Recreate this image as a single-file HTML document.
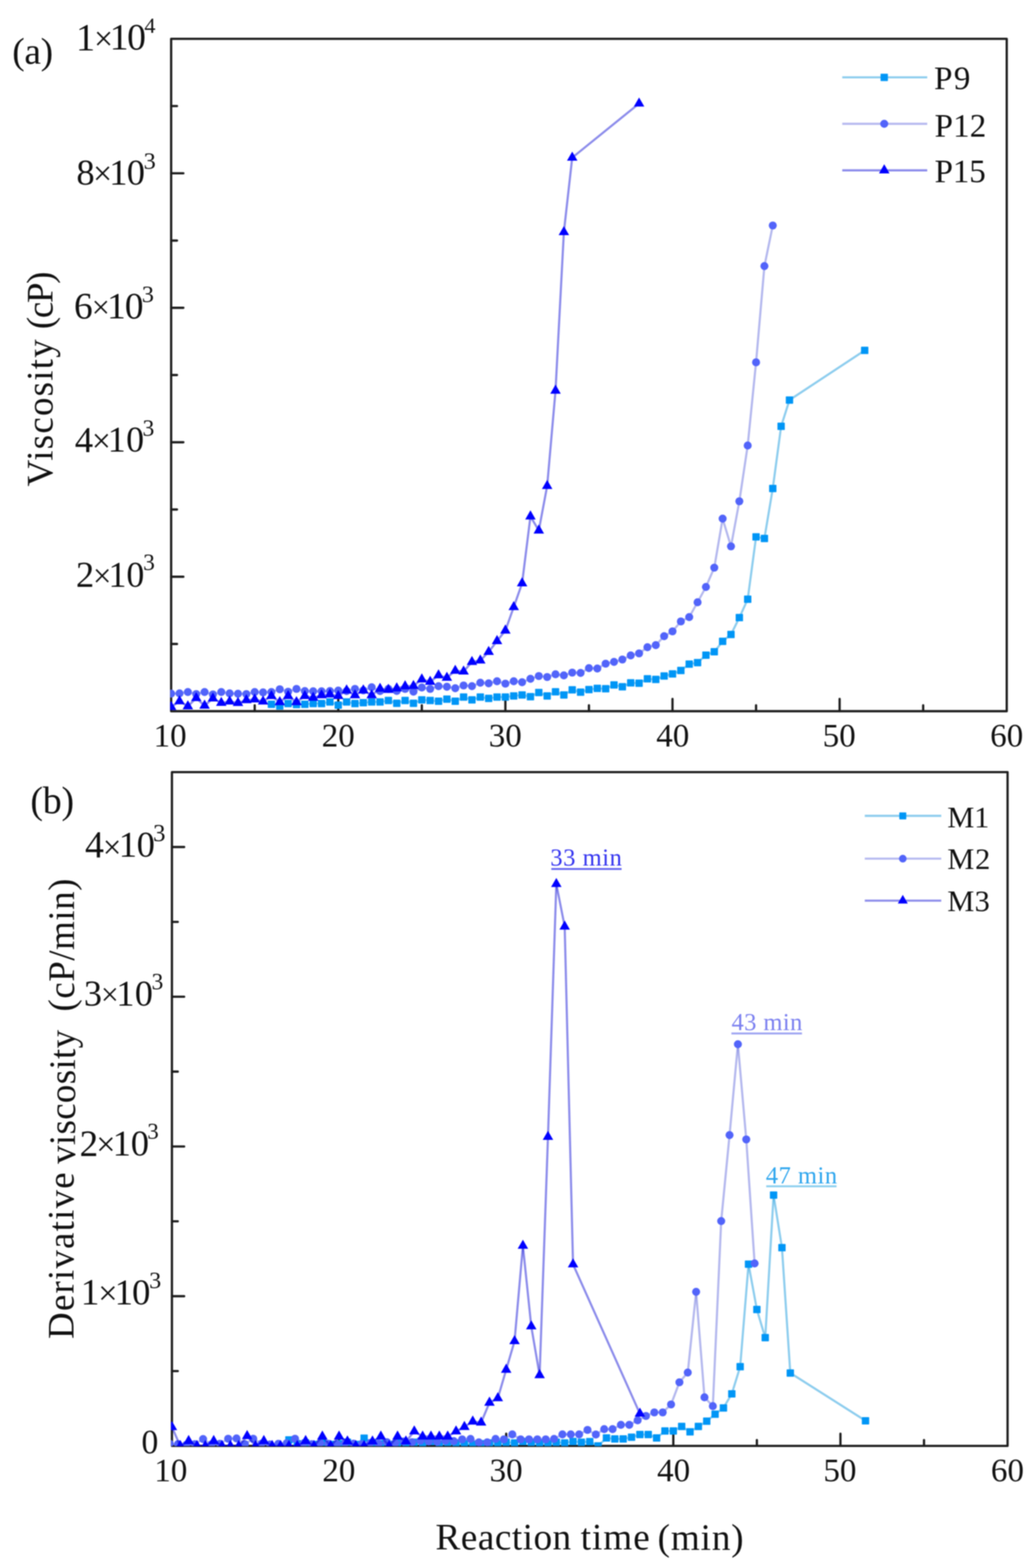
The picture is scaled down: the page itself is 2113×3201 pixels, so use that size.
<!DOCTYPE html>
<html><head><meta charset="utf-8"><title>Viscosity vs reaction time</title><style>html,body{margin:0;padding:0;background:#fff;}svg{display:block;filter:blur(0.8px);}</style></head><body>
<svg width="2113" height="3201" viewBox="0 0 2113 3201">
<defs><clipPath id="ca"><rect x="347.4" y="77.3" width="1709.9" height="1375.1"/></clipPath><clipPath id="cb"><rect x="349" y="1574.3" width="1710" height="1378"/></clipPath></defs>
<rect width="2113" height="3201" fill="#fff"/>
<rect x="349.4" y="79.3" width="1705.9" height="1372.6" fill="none" stroke="#1d1d1d" stroke-width="4.6" stroke-linejoin="round"/>
<path d="M519.99 1451.9V1439.9 M690.58 1451.9V1426.9 M861.17 1451.9V1439.9 M1031.76 1451.9V1426.9 M1202.35 1451.9V1439.9 M1372.94 1451.9V1426.9 M1543.53 1451.9V1439.9 M1714.12 1451.9V1426.9 M1884.71 1451.9V1439.9 M349.4 1177.38H374.4 M349.4 902.86H374.4 M349.4 628.34H374.4 M349.4 353.82H374.4 M349.4 1314.64H361.4 M349.4 1040.12H361.4 M349.4 765.6H361.4 M349.4 491.08H361.4 M349.4 216.56H361.4" stroke="#1d1d1d" stroke-width="4.6" stroke-linecap="round" fill="none"/>
<g clip-path="url(#ca)">
<g stroke="#0290d9" stroke-opacity="0.45" stroke-width="4.4" stroke-linecap="round">
<line x1="554.11" y1="1437.76" x2="571.17" y2="1441.19"/>
<line x1="571.17" y1="1441.19" x2="588.23" y2="1436.25"/>
<line x1="588.23" y1="1436.25" x2="605.28" y2="1438.17"/>
<line x1="605.28" y1="1438.17" x2="622.34" y2="1437.76"/>
<line x1="622.34" y1="1437.76" x2="639.4" y2="1436.25"/>
<line x1="639.4" y1="1436.25" x2="656.46" y2="1436.25"/>
<line x1="656.46" y1="1436.25" x2="673.52" y2="1432.96"/>
<line x1="673.52" y1="1432.96" x2="690.58" y2="1439.55"/>
<line x1="690.58" y1="1439.55" x2="707.64" y2="1432.96"/>
<line x1="707.64" y1="1432.96" x2="724.7" y2="1436.25"/>
<line x1="724.7" y1="1436.25" x2="741.76" y2="1434.47"/>
<line x1="741.76" y1="1434.47" x2="758.82" y2="1432.96"/>
<line x1="758.82" y1="1432.96" x2="775.88" y2="1432.96"/>
<line x1="775.88" y1="1432.96" x2="792.93" y2="1430.08"/>
<line x1="792.93" y1="1430.08" x2="809.99" y2="1435.7"/>
<line x1="809.99" y1="1435.7" x2="827.05" y2="1430.08"/>
<line x1="827.05" y1="1430.08" x2="844.11" y2="1435.7"/>
<line x1="844.11" y1="1435.7" x2="861.17" y2="1428.7"/>
<line x1="861.17" y1="1428.7" x2="878.23" y2="1430.08"/>
<line x1="878.23" y1="1430.08" x2="895.29" y2="1431.45"/>
<line x1="895.29" y1="1431.45" x2="912.35" y2="1427.33"/>
<line x1="912.35" y1="1427.33" x2="929.41" y2="1431.45"/>
<line x1="929.41" y1="1431.45" x2="946.46" y2="1423.08"/>
<line x1="946.46" y1="1423.08" x2="963.52" y2="1428.7"/>
<line x1="963.52" y1="1428.7" x2="980.58" y2="1423.08"/>
<line x1="980.58" y1="1423.08" x2="997.64" y2="1425.82"/>
<line x1="997.64" y1="1425.82" x2="1014.7" y2="1422.94"/>
<line x1="1014.7" y1="1422.94" x2="1031.76" y2="1422.94"/>
<line x1="1031.76" y1="1422.94" x2="1048.82" y2="1420.74"/>
<line x1="1048.82" y1="1420.74" x2="1065.88" y2="1418.68"/>
<line x1="1065.88" y1="1418.68" x2="1082.94" y2="1422.25"/>
<line x1="1082.94" y1="1422.25" x2="1100" y2="1413.74"/>
<line x1="1100" y1="1413.74" x2="1117.06" y2="1420.74"/>
<line x1="1117.06" y1="1420.74" x2="1134.11" y2="1412.37"/>
<line x1="1134.11" y1="1412.37" x2="1151.17" y2="1418.68"/>
<line x1="1151.17" y1="1418.68" x2="1168.23" y2="1408.25"/>
<line x1="1168.23" y1="1408.25" x2="1185.29" y2="1413.06"/>
<line x1="1185.29" y1="1413.06" x2="1202.35" y2="1407.7"/>
<line x1="1202.35" y1="1407.7" x2="1219.41" y2="1405.37"/>
<line x1="1219.41" y1="1405.37" x2="1236.47" y2="1406.06"/>
<line x1="1236.47" y1="1406.06" x2="1253.53" y2="1398.37"/>
<line x1="1253.53" y1="1398.37" x2="1270.59" y2="1401.94"/>
<line x1="1270.59" y1="1401.94" x2="1287.64" y2="1394.11"/>
<line x1="1287.64" y1="1394.11" x2="1304.7" y2="1394.8"/>
<line x1="1304.7" y1="1394.8" x2="1321.76" y2="1385.74"/>
<line x1="1321.76" y1="1385.74" x2="1338.82" y2="1387.11"/>
<line x1="1338.82" y1="1387.11" x2="1355.88" y2="1380.11"/>
<line x1="1355.88" y1="1380.11" x2="1372.94" y2="1375.86"/>
<line x1="1372.94" y1="1375.86" x2="1390" y2="1368.86"/>
<line x1="1390" y1="1368.86" x2="1407.06" y2="1355.82"/>
<line x1="1407.06" y1="1355.82" x2="1424.12" y2="1352.66"/>
<line x1="1424.12" y1="1352.66" x2="1441.18" y2="1337.56"/>
<line x1="1441.18" y1="1337.56" x2="1458.24" y2="1330.56"/>
<line x1="1458.24" y1="1330.56" x2="1475.29" y2="1309.29"/>
<line x1="1475.29" y1="1309.29" x2="1492.35" y2="1295.15"/>
<line x1="1492.35" y1="1295.15" x2="1509.41" y2="1260.83"/>
<line x1="1509.41" y1="1260.83" x2="1526.47" y2="1223.36"/>
<line x1="1526.47" y1="1223.36" x2="1543.53" y2="1096.12"/>
<line x1="1543.53" y1="1096.12" x2="1560.59" y2="1099.14"/>
<line x1="1560.59" y1="1099.14" x2="1577.65" y2="997.16"/>
<line x1="1577.65" y1="997.16" x2="1594.71" y2="870.33"/>
<line x1="1594.71" y1="870.33" x2="1611.77" y2="816.66"/>
<line x1="1611.77" y1="816.66" x2="1765.3" y2="715.36"/>
</g>
<g fill="#0096f6">
<rect x="546.61" y="1430.26" width="15" height="15" rx="1.2"/>
<rect x="563.67" y="1433.69" width="15" height="15" rx="1.2"/>
<rect x="580.73" y="1428.75" width="15" height="15" rx="1.2"/>
<rect x="597.78" y="1430.67" width="15" height="15" rx="1.2"/>
<rect x="614.84" y="1430.26" width="15" height="15" rx="1.2"/>
<rect x="631.9" y="1428.75" width="15" height="15" rx="1.2"/>
<rect x="648.96" y="1428.75" width="15" height="15" rx="1.2"/>
<rect x="666.02" y="1425.46" width="15" height="15" rx="1.2"/>
<rect x="683.08" y="1432.05" width="15" height="15" rx="1.2"/>
<rect x="700.14" y="1425.46" width="15" height="15" rx="1.2"/>
<rect x="717.2" y="1428.75" width="15" height="15" rx="1.2"/>
<rect x="734.26" y="1426.97" width="15" height="15" rx="1.2"/>
<rect x="751.32" y="1425.46" width="15" height="15" rx="1.2"/>
<rect x="768.38" y="1425.46" width="15" height="15" rx="1.2"/>
<rect x="785.43" y="1422.58" width="15" height="15" rx="1.2"/>
<rect x="802.49" y="1428.2" width="15" height="15" rx="1.2"/>
<rect x="819.55" y="1422.58" width="15" height="15" rx="1.2"/>
<rect x="836.61" y="1428.2" width="15" height="15" rx="1.2"/>
<rect x="853.67" y="1421.2" width="15" height="15" rx="1.2"/>
<rect x="870.73" y="1422.58" width="15" height="15" rx="1.2"/>
<rect x="887.79" y="1423.95" width="15" height="15" rx="1.2"/>
<rect x="904.85" y="1419.83" width="15" height="15" rx="1.2"/>
<rect x="921.91" y="1423.95" width="15" height="15" rx="1.2"/>
<rect x="938.96" y="1415.58" width="15" height="15" rx="1.2"/>
<rect x="956.02" y="1421.2" width="15" height="15" rx="1.2"/>
<rect x="973.08" y="1415.58" width="15" height="15" rx="1.2"/>
<rect x="990.14" y="1418.32" width="15" height="15" rx="1.2"/>
<rect x="1007.2" y="1415.44" width="15" height="15" rx="1.2"/>
<rect x="1024.26" y="1415.44" width="15" height="15" rx="1.2"/>
<rect x="1041.32" y="1413.24" width="15" height="15" rx="1.2"/>
<rect x="1058.38" y="1411.18" width="15" height="15" rx="1.2"/>
<rect x="1075.44" y="1414.75" width="15" height="15" rx="1.2"/>
<rect x="1092.5" y="1406.24" width="15" height="15" rx="1.2"/>
<rect x="1109.56" y="1413.24" width="15" height="15" rx="1.2"/>
<rect x="1126.61" y="1404.87" width="15" height="15" rx="1.2"/>
<rect x="1143.67" y="1411.18" width="15" height="15" rx="1.2"/>
<rect x="1160.73" y="1400.75" width="15" height="15" rx="1.2"/>
<rect x="1177.79" y="1405.56" width="15" height="15" rx="1.2"/>
<rect x="1194.85" y="1400.2" width="15" height="15" rx="1.2"/>
<rect x="1211.91" y="1397.87" width="15" height="15" rx="1.2"/>
<rect x="1228.97" y="1398.56" width="15" height="15" rx="1.2"/>
<rect x="1246.03" y="1390.87" width="15" height="15" rx="1.2"/>
<rect x="1263.09" y="1394.44" width="15" height="15" rx="1.2"/>
<rect x="1280.14" y="1386.61" width="15" height="15" rx="1.2"/>
<rect x="1297.2" y="1387.3" width="15" height="15" rx="1.2"/>
<rect x="1314.26" y="1378.24" width="15" height="15" rx="1.2"/>
<rect x="1331.32" y="1379.61" width="15" height="15" rx="1.2"/>
<rect x="1348.38" y="1372.61" width="15" height="15" rx="1.2"/>
<rect x="1365.44" y="1368.36" width="15" height="15" rx="1.2"/>
<rect x="1382.5" y="1361.36" width="15" height="15" rx="1.2"/>
<rect x="1399.56" y="1348.32" width="15" height="15" rx="1.2"/>
<rect x="1416.62" y="1345.16" width="15" height="15" rx="1.2"/>
<rect x="1433.68" y="1330.06" width="15" height="15" rx="1.2"/>
<rect x="1450.74" y="1323.06" width="15" height="15" rx="1.2"/>
<rect x="1467.79" y="1301.79" width="15" height="15" rx="1.2"/>
<rect x="1484.85" y="1287.65" width="15" height="15" rx="1.2"/>
<rect x="1501.91" y="1253.33" width="15" height="15" rx="1.2"/>
<rect x="1518.97" y="1215.86" width="15" height="15" rx="1.2"/>
<rect x="1536.03" y="1088.62" width="15" height="15" rx="1.2"/>
<rect x="1553.09" y="1091.64" width="15" height="15" rx="1.2"/>
<rect x="1570.15" y="989.66" width="15" height="15" rx="1.2"/>
<rect x="1587.21" y="862.83" width="15" height="15" rx="1.2"/>
<rect x="1604.27" y="809.16" width="15" height="15" rx="1.2"/>
<rect x="1757.8" y="707.86" width="15" height="15" rx="1.2"/>
</g></g>
<g clip-path="url(#ca)">
<g stroke="#5861d9" stroke-opacity="0.45" stroke-width="4.4" stroke-linecap="round">
<line x1="349.4" y1="1415.94" x2="366.46" y2="1415.53"/>
<line x1="366.46" y1="1415.53" x2="383.52" y2="1412.78"/>
<line x1="383.52" y1="1412.78" x2="400.58" y2="1416.9"/>
<line x1="400.58" y1="1416.9" x2="417.64" y2="1412.78"/>
<line x1="417.64" y1="1412.78" x2="434.69" y2="1417.59"/>
<line x1="434.69" y1="1417.59" x2="451.75" y2="1412.78"/>
<line x1="451.75" y1="1412.78" x2="468.81" y2="1415.53"/>
<line x1="468.81" y1="1415.53" x2="485.87" y2="1416.21"/>
<line x1="485.87" y1="1416.21" x2="502.93" y2="1416.9"/>
<line x1="502.93" y1="1416.9" x2="519.99" y2="1412.78"/>
<line x1="519.99" y1="1412.78" x2="537.05" y2="1413.47"/>
<line x1="537.05" y1="1413.47" x2="554.11" y2="1412.78"/>
<line x1="554.11" y1="1412.78" x2="571.17" y2="1407.15"/>
<line x1="571.17" y1="1407.15" x2="588.23" y2="1412.09"/>
<line x1="588.23" y1="1412.09" x2="605.28" y2="1406.33"/>
<line x1="605.28" y1="1406.33" x2="622.34" y2="1410.72"/>
<line x1="622.34" y1="1410.72" x2="639.4" y2="1411.27"/>
<line x1="639.4" y1="1411.27" x2="656.46" y2="1411.27"/>
<line x1="656.46" y1="1411.27" x2="673.52" y2="1410.72"/>
<line x1="673.52" y1="1410.72" x2="690.58" y2="1409.76"/>
<line x1="690.58" y1="1409.76" x2="707.64" y2="1410.72"/>
<line x1="707.64" y1="1410.72" x2="724.7" y2="1406.33"/>
<line x1="724.7" y1="1406.33" x2="741.76" y2="1409.35"/>
<line x1="741.76" y1="1409.35" x2="758.82" y2="1403.04"/>
<line x1="758.82" y1="1403.04" x2="775.88" y2="1410.72"/>
<line x1="775.88" y1="1410.72" x2="792.93" y2="1406.33"/>
<line x1="792.93" y1="1406.33" x2="809.99" y2="1410.45"/>
<line x1="809.99" y1="1410.45" x2="827.05" y2="1406.33"/>
<line x1="827.05" y1="1406.33" x2="844.11" y2="1411.96"/>
<line x1="844.11" y1="1411.96" x2="861.17" y2="1403.45"/>
<line x1="861.17" y1="1403.45" x2="878.23" y2="1406.33"/>
<line x1="878.23" y1="1406.33" x2="895.29" y2="1400.7"/>
<line x1="895.29" y1="1400.7" x2="912.35" y2="1402.07"/>
<line x1="912.35" y1="1402.07" x2="929.41" y2="1404.96"/>
<line x1="929.41" y1="1404.96" x2="946.46" y2="1399.33"/>
<line x1="946.46" y1="1399.33" x2="963.52" y2="1400.7"/>
<line x1="963.52" y1="1400.7" x2="980.58" y2="1393.7"/>
<line x1="980.58" y1="1393.7" x2="997.64" y2="1395.07"/>
<line x1="997.64" y1="1395.07" x2="1014.7" y2="1390.68"/>
<line x1="1014.7" y1="1390.68" x2="1031.76" y2="1395.62"/>
<line x1="1031.76" y1="1395.62" x2="1048.82" y2="1390.68"/>
<line x1="1048.82" y1="1390.68" x2="1065.88" y2="1392.74"/>
<line x1="1065.88" y1="1392.74" x2="1082.94" y2="1385.74"/>
<line x1="1082.94" y1="1385.74" x2="1100" y2="1380.11"/>
<line x1="1100" y1="1380.11" x2="1117.06" y2="1382.17"/>
<line x1="1117.06" y1="1382.17" x2="1134.11" y2="1376.54"/>
<line x1="1134.11" y1="1376.54" x2="1151.17" y2="1378.74"/>
<line x1="1151.17" y1="1378.74" x2="1168.23" y2="1373.11"/>
<line x1="1168.23" y1="1373.11" x2="1185.29" y2="1373.8"/>
<line x1="1185.29" y1="1373.8" x2="1202.35" y2="1364.05"/>
<line x1="1202.35" y1="1364.05" x2="1219.41" y2="1364.74"/>
<line x1="1219.41" y1="1364.74" x2="1236.47" y2="1354.86"/>
<line x1="1236.47" y1="1354.86" x2="1253.53" y2="1351.29"/>
<line x1="1253.53" y1="1351.29" x2="1270.59" y2="1346.35"/>
<line x1="1270.59" y1="1346.35" x2="1287.64" y2="1337.97"/>
<line x1="1287.64" y1="1337.97" x2="1304.7" y2="1333.86"/>
<line x1="1304.7" y1="1333.86" x2="1321.76" y2="1321.23"/>
<line x1="1321.76" y1="1321.23" x2="1338.82" y2="1316.97"/>
<line x1="1338.82" y1="1316.97" x2="1355.88" y2="1298.72"/>
<line x1="1355.88" y1="1298.72" x2="1372.94" y2="1288.84"/>
<line x1="1372.94" y1="1288.84" x2="1390" y2="1268.66"/>
<line x1="1390" y1="1268.66" x2="1407.06" y2="1259.74"/>
<line x1="1407.06" y1="1259.74" x2="1424.12" y2="1229.54"/>
<line x1="1424.12" y1="1229.54" x2="1441.18" y2="1198.24"/>
<line x1="1441.18" y1="1198.24" x2="1458.24" y2="1158.85"/>
<line x1="1458.24" y1="1158.85" x2="1475.29" y2="1058.79"/>
<line x1="1475.29" y1="1058.79" x2="1492.35" y2="1115.34"/>
<line x1="1492.35" y1="1115.34" x2="1509.41" y2="1023.37"/>
<line x1="1509.41" y1="1023.37" x2="1526.47" y2="909.45"/>
<line x1="1526.47" y1="909.45" x2="1543.53" y2="739.66"/>
<line x1="1543.53" y1="739.66" x2="1560.59" y2="543.24"/>
<line x1="1560.59" y1="543.24" x2="1577.65" y2="460.33"/>
</g>
<g fill="#5264fa">
<circle cx="349.4" cy="1415.94" r="8.2"/>
<circle cx="366.46" cy="1415.53" r="8.2"/>
<circle cx="383.52" cy="1412.78" r="8.2"/>
<circle cx="400.58" cy="1416.9" r="8.2"/>
<circle cx="417.64" cy="1412.78" r="8.2"/>
<circle cx="434.69" cy="1417.59" r="8.2"/>
<circle cx="451.75" cy="1412.78" r="8.2"/>
<circle cx="468.81" cy="1415.53" r="8.2"/>
<circle cx="485.87" cy="1416.21" r="8.2"/>
<circle cx="502.93" cy="1416.9" r="8.2"/>
<circle cx="519.99" cy="1412.78" r="8.2"/>
<circle cx="537.05" cy="1413.47" r="8.2"/>
<circle cx="554.11" cy="1412.78" r="8.2"/>
<circle cx="571.17" cy="1407.15" r="8.2"/>
<circle cx="588.23" cy="1412.09" r="8.2"/>
<circle cx="605.28" cy="1406.33" r="8.2"/>
<circle cx="622.34" cy="1410.72" r="8.2"/>
<circle cx="639.4" cy="1411.27" r="8.2"/>
<circle cx="656.46" cy="1411.27" r="8.2"/>
<circle cx="673.52" cy="1410.72" r="8.2"/>
<circle cx="690.58" cy="1409.76" r="8.2"/>
<circle cx="707.64" cy="1410.72" r="8.2"/>
<circle cx="724.7" cy="1406.33" r="8.2"/>
<circle cx="741.76" cy="1409.35" r="8.2"/>
<circle cx="758.82" cy="1403.04" r="8.2"/>
<circle cx="775.88" cy="1410.72" r="8.2"/>
<circle cx="792.93" cy="1406.33" r="8.2"/>
<circle cx="809.99" cy="1410.45" r="8.2"/>
<circle cx="827.05" cy="1406.33" r="8.2"/>
<circle cx="844.11" cy="1411.96" r="8.2"/>
<circle cx="861.17" cy="1403.45" r="8.2"/>
<circle cx="878.23" cy="1406.33" r="8.2"/>
<circle cx="895.29" cy="1400.7" r="8.2"/>
<circle cx="912.35" cy="1402.07" r="8.2"/>
<circle cx="929.41" cy="1404.96" r="8.2"/>
<circle cx="946.46" cy="1399.33" r="8.2"/>
<circle cx="963.52" cy="1400.7" r="8.2"/>
<circle cx="980.58" cy="1393.7" r="8.2"/>
<circle cx="997.64" cy="1395.07" r="8.2"/>
<circle cx="1014.7" cy="1390.68" r="8.2"/>
<circle cx="1031.76" cy="1395.62" r="8.2"/>
<circle cx="1048.82" cy="1390.68" r="8.2"/>
<circle cx="1065.88" cy="1392.74" r="8.2"/>
<circle cx="1082.94" cy="1385.74" r="8.2"/>
<circle cx="1100" cy="1380.11" r="8.2"/>
<circle cx="1117.06" cy="1382.17" r="8.2"/>
<circle cx="1134.11" cy="1376.54" r="8.2"/>
<circle cx="1151.17" cy="1378.74" r="8.2"/>
<circle cx="1168.23" cy="1373.11" r="8.2"/>
<circle cx="1185.29" cy="1373.8" r="8.2"/>
<circle cx="1202.35" cy="1364.05" r="8.2"/>
<circle cx="1219.41" cy="1364.74" r="8.2"/>
<circle cx="1236.47" cy="1354.86" r="8.2"/>
<circle cx="1253.53" cy="1351.29" r="8.2"/>
<circle cx="1270.59" cy="1346.35" r="8.2"/>
<circle cx="1287.64" cy="1337.97" r="8.2"/>
<circle cx="1304.7" cy="1333.86" r="8.2"/>
<circle cx="1321.76" cy="1321.23" r="8.2"/>
<circle cx="1338.82" cy="1316.97" r="8.2"/>
<circle cx="1355.88" cy="1298.72" r="8.2"/>
<circle cx="1372.94" cy="1288.84" r="8.2"/>
<circle cx="1390" cy="1268.66" r="8.2"/>
<circle cx="1407.06" cy="1259.74" r="8.2"/>
<circle cx="1424.12" cy="1229.54" r="8.2"/>
<circle cx="1441.18" cy="1198.24" r="8.2"/>
<circle cx="1458.24" cy="1158.85" r="8.2"/>
<circle cx="1475.29" cy="1058.79" r="8.2"/>
<circle cx="1492.35" cy="1115.34" r="8.2"/>
<circle cx="1509.41" cy="1023.37" r="8.2"/>
<circle cx="1526.47" cy="909.45" r="8.2"/>
<circle cx="1543.53" cy="739.66" r="8.2"/>
<circle cx="1560.59" cy="543.24" r="8.2"/>
<circle cx="1577.65" cy="460.33" r="8.2"/>
</g></g>
<g clip-path="url(#ca)">
<g stroke="#0000d3" stroke-opacity="0.45" stroke-width="4.4" stroke-linecap="round">
<line x1="349.4" y1="1443.25" x2="366.46" y2="1431.59"/>
<line x1="366.46" y1="1431.59" x2="383.52" y2="1441.88"/>
<line x1="383.52" y1="1441.88" x2="400.58" y2="1425.13"/>
<line x1="400.58" y1="1425.13" x2="417.64" y2="1440.51"/>
<line x1="417.64" y1="1440.51" x2="434.69" y2="1425.82"/>
<line x1="434.69" y1="1425.82" x2="451.75" y2="1434.88"/>
<line x1="451.75" y1="1434.88" x2="468.81" y2="1432.13"/>
<line x1="468.81" y1="1432.13" x2="485.87" y2="1435.02"/>
<line x1="485.87" y1="1435.02" x2="502.93" y2="1429.39"/>
<line x1="502.93" y1="1429.39" x2="519.99" y2="1427.88"/>
<line x1="519.99" y1="1427.88" x2="537.05" y2="1432.13"/>
<line x1="537.05" y1="1432.13" x2="554.11" y2="1420.88"/>
<line x1="554.11" y1="1420.88" x2="571.17" y2="1433.37"/>
<line x1="571.17" y1="1433.37" x2="588.23" y2="1420.88"/>
<line x1="588.23" y1="1420.88" x2="605.28" y2="1433.37"/>
<line x1="605.28" y1="1433.37" x2="622.34" y2="1420.88"/>
<line x1="622.34" y1="1420.88" x2="639.4" y2="1424.31"/>
<line x1="639.4" y1="1424.31" x2="656.46" y2="1419.37"/>
<line x1="656.46" y1="1419.37" x2="673.52" y2="1417.59"/>
<line x1="673.52" y1="1417.59" x2="690.58" y2="1420.88"/>
<line x1="690.58" y1="1420.88" x2="707.64" y2="1409.35"/>
<line x1="707.64" y1="1409.35" x2="724.7" y2="1419.37"/>
<line x1="724.7" y1="1419.37" x2="741.76" y2="1409.35"/>
<line x1="741.76" y1="1409.35" x2="758.82" y2="1419.37"/>
<line x1="758.82" y1="1419.37" x2="775.88" y2="1406.06"/>
<line x1="775.88" y1="1406.06" x2="792.93" y2="1408.25"/>
<line x1="792.93" y1="1408.25" x2="809.99" y2="1405.23"/>
<line x1="809.99" y1="1405.23" x2="827.05" y2="1400.98"/>
<line x1="827.05" y1="1400.98" x2="844.11" y2="1400.29"/>
<line x1="844.11" y1="1400.29" x2="861.17" y2="1386.98"/>
<line x1="861.17" y1="1386.98" x2="878.23" y2="1391.92"/>
<line x1="878.23" y1="1391.92" x2="895.29" y2="1378.6"/>
<line x1="895.29" y1="1378.6" x2="912.35" y2="1383.54"/>
<line x1="912.35" y1="1383.54" x2="929.41" y2="1369.41"/>
<line x1="929.41" y1="1369.41" x2="946.46" y2="1370.78"/>
<line x1="946.46" y1="1370.78" x2="963.52" y2="1351.29"/>
<line x1="963.52" y1="1351.29" x2="980.58" y2="1348.41"/>
<line x1="980.58" y1="1348.41" x2="997.64" y2="1330.84"/>
<line x1="997.64" y1="1330.84" x2="1014.7" y2="1308.74"/>
<line x1="1014.7" y1="1308.74" x2="1031.76" y2="1287.19"/>
<line x1="1031.76" y1="1287.19" x2="1048.82" y2="1239.28"/>
<line x1="1048.82" y1="1239.28" x2="1065.88" y2="1190.69"/>
<line x1="1065.88" y1="1190.69" x2="1082.94" y2="1054.26"/>
<line x1="1082.94" y1="1054.26" x2="1100" y2="1082.95"/>
<line x1="1100" y1="1082.95" x2="1117.06" y2="992.08"/>
<line x1="1117.06" y1="992.08" x2="1134.11" y2="797.44"/>
<line x1="1134.11" y1="797.44" x2="1151.17" y2="473.79"/>
<line x1="1151.17" y1="473.79" x2="1168.23" y2="321.84"/>
<line x1="1168.23" y1="321.84" x2="1304.7" y2="211.34"/>
</g>
<g fill="#0000ff">
<path d="M349.4 1430.85L360.1 1449.45L338.7 1449.45Z"/>
<path d="M366.46 1419.19L377.16 1437.79L355.76 1437.79Z"/>
<path d="M383.52 1429.48L394.22 1448.08L372.82 1448.08Z"/>
<path d="M400.58 1412.73L411.28 1431.33L389.88 1431.33Z"/>
<path d="M417.64 1428.11L428.34 1446.71L406.94 1446.71Z"/>
<path d="M434.69 1413.42L445.39 1432.02L424 1432.02Z"/>
<path d="M451.75 1422.48L462.45 1441.08L441.05 1441.08Z"/>
<path d="M468.81 1419.73L479.51 1438.33L458.11 1438.33Z"/>
<path d="M485.87 1422.62L496.57 1441.22L475.17 1441.22Z"/>
<path d="M502.93 1416.99L513.63 1435.59L492.23 1435.59Z"/>
<path d="M519.99 1415.48L530.69 1434.08L509.29 1434.08Z"/>
<path d="M537.05 1419.73L547.75 1438.33L526.35 1438.33Z"/>
<path d="M554.11 1408.48L564.81 1427.08L543.41 1427.08Z"/>
<path d="M571.17 1420.97L581.87 1439.57L560.47 1439.57Z"/>
<path d="M588.23 1408.48L598.93 1427.08L577.53 1427.08Z"/>
<path d="M605.28 1420.97L615.99 1439.57L594.58 1439.57Z"/>
<path d="M622.34 1408.48L633.04 1427.08L611.64 1427.08Z"/>
<path d="M639.4 1411.91L650.1 1430.51L628.7 1430.51Z"/>
<path d="M656.46 1406.97L667.16 1425.57L645.76 1425.57Z"/>
<path d="M673.52 1405.18L684.22 1423.79L662.82 1423.79Z"/>
<path d="M690.58 1408.48L701.28 1427.08L679.88 1427.08Z"/>
<path d="M707.64 1396.95L718.34 1415.55L696.94 1415.55Z"/>
<path d="M724.7 1406.97L735.4 1425.57L714 1425.57Z"/>
<path d="M741.76 1396.95L752.46 1415.55L731.06 1415.55Z"/>
<path d="M758.82 1406.97L769.52 1425.57L748.12 1425.57Z"/>
<path d="M775.88 1393.66L786.58 1412.26L765.17 1412.26Z"/>
<path d="M792.93 1395.85L803.63 1414.45L782.23 1414.45Z"/>
<path d="M809.99 1392.83L820.69 1411.43L799.29 1411.43Z"/>
<path d="M827.05 1388.58L837.75 1407.18L816.35 1407.18Z"/>
<path d="M844.11 1387.89L854.81 1406.49L833.41 1406.49Z"/>
<path d="M861.17 1374.58L871.87 1393.18L850.47 1393.18Z"/>
<path d="M878.23 1379.52L888.93 1398.12L867.53 1398.12Z"/>
<path d="M895.29 1366.2L905.99 1384.8L884.59 1384.8Z"/>
<path d="M912.35 1371.14L923.05 1389.74L901.65 1389.74Z"/>
<path d="M929.41 1357.01L940.11 1375.61L918.71 1375.61Z"/>
<path d="M946.46 1358.38L957.16 1376.98L935.76 1376.98Z"/>
<path d="M963.52 1338.89L974.22 1357.49L952.82 1357.49Z"/>
<path d="M980.58 1336.01L991.28 1354.61L969.88 1354.61Z"/>
<path d="M997.64 1318.44L1008.34 1337.04L986.94 1337.04Z"/>
<path d="M1014.7 1296.34L1025.4 1314.94L1004 1314.94Z"/>
<path d="M1031.76 1274.79L1042.46 1293.39L1021.06 1293.39Z"/>
<path d="M1048.82 1226.88L1059.52 1245.48L1038.12 1245.48Z"/>
<path d="M1065.88 1178.29L1076.58 1196.89L1055.18 1196.89Z"/>
<path d="M1082.94 1041.86L1093.64 1060.46L1072.24 1060.46Z"/>
<path d="M1100 1070.55L1110.7 1089.15L1089.3 1089.15Z"/>
<path d="M1117.06 979.68L1127.76 998.28L1106.36 998.28Z"/>
<path d="M1134.11 785.04L1144.81 803.64L1123.41 803.64Z"/>
<path d="M1151.17 461.39L1161.87 479.99L1140.47 479.99Z"/>
<path d="M1168.23 309.44L1178.93 328.04L1157.53 328.04Z"/>
<path d="M1304.7 198.94L1315.4 217.54L1294 217.54Z"/>
</g></g>
<path d="M1719.5 157.9H1893" stroke="#8dcdee" stroke-width="4.4"/>
<g fill="#0096f6"><rect x="1797.7" y="150.4" width="15" height="15" rx="1.2"/></g>
<path d="M1719.5 252.7H1893" stroke="#b7baf0" stroke-width="4.4"/>
<g fill="#5264fa"><circle cx="1805.2" cy="252.7" r="8.2"/></g>
<path d="M1719.5 347.7H1893" stroke="#8c8ceb" stroke-width="4.4"/>
<g fill="#0000ff"><path d="M1805.2 335.3L1815.9 353.9L1794.5 353.9Z"/></g>
<rect x="351" y="1576.3" width="1706" height="1375.5" fill="none" stroke="#1d1d1d" stroke-width="4.6" stroke-linejoin="round"/>
<path d="M521.6 2951.8V2939.8 M692.2 2951.8V2926.8 M862.8 2951.8V2939.8 M1033.4 2951.8V2926.8 M1204 2951.8V2939.8 M1374.6 2951.8V2926.8 M1545.2 2951.8V2939.8 M1715.8 2951.8V2926.8 M1886.4 2951.8V2939.8 M351 2646.13H376 M351 2340.47H376 M351 2034.8H376 M351 1729.13H376 M351 2798.97H363 M351 2493.3H363 M351 2187.63H363 M351 1881.97H363" stroke="#1d1d1d" stroke-width="4.6" stroke-linecap="round" fill="none"/>
<g clip-path="url(#cb)">
<g stroke="#0290d9" stroke-opacity="0.45" stroke-width="4.4" stroke-linecap="round">
<line x1="589.84" y1="2939.57" x2="606.9" y2="2947.22"/>
<line x1="606.9" y1="2947.22" x2="623.96" y2="2945.69"/>
<line x1="623.96" y1="2945.69" x2="641.02" y2="2948.74"/>
<line x1="641.02" y1="2948.74" x2="658.08" y2="2944.16"/>
<line x1="658.08" y1="2944.16" x2="675.14" y2="2948.74"/>
<line x1="675.14" y1="2948.74" x2="692.2" y2="2947.22"/>
<line x1="692.2" y1="2947.22" x2="709.26" y2="2944.16"/>
<line x1="709.26" y1="2944.16" x2="726.32" y2="2948.74"/>
<line x1="726.32" y1="2948.74" x2="743.38" y2="2935.91"/>
<line x1="743.38" y1="2935.91" x2="760.44" y2="2945.69"/>
<line x1="760.44" y1="2945.69" x2="777.5" y2="2947.22"/>
<line x1="777.5" y1="2947.22" x2="794.56" y2="2948.74"/>
<line x1="794.56" y1="2948.74" x2="811.62" y2="2945.69"/>
<line x1="811.62" y1="2945.69" x2="828.68" y2="2947.22"/>
<line x1="828.68" y1="2947.22" x2="845.74" y2="2944.16"/>
<line x1="845.74" y1="2944.16" x2="862.8" y2="2945.69"/>
<line x1="862.8" y1="2945.69" x2="879.86" y2="2942.63"/>
<line x1="879.86" y1="2942.63" x2="896.92" y2="2947.22"/>
<line x1="896.92" y1="2947.22" x2="913.98" y2="2944.16"/>
<line x1="913.98" y1="2944.16" x2="931.04" y2="2945.69"/>
<line x1="931.04" y1="2945.69" x2="948.1" y2="2947.22"/>
<line x1="948.1" y1="2947.22" x2="965.16" y2="2948.74"/>
<line x1="965.16" y1="2948.74" x2="982.22" y2="2947.22"/>
<line x1="982.22" y1="2947.22" x2="999.28" y2="2945.69"/>
<line x1="999.28" y1="2945.69" x2="1016.34" y2="2947.22"/>
<line x1="1016.34" y1="2947.22" x2="1033.4" y2="2944.16"/>
<line x1="1033.4" y1="2944.16" x2="1050.46" y2="2945.69"/>
<line x1="1050.46" y1="2945.69" x2="1067.52" y2="2942.63"/>
<line x1="1067.52" y1="2942.63" x2="1084.58" y2="2944.16"/>
<line x1="1084.58" y1="2944.16" x2="1101.64" y2="2945.69"/>
<line x1="1101.64" y1="2945.69" x2="1118.7" y2="2947.22"/>
<line x1="1118.7" y1="2947.22" x2="1135.76" y2="2944.16"/>
<line x1="1135.76" y1="2944.16" x2="1152.82" y2="2945.69"/>
<line x1="1152.82" y1="2945.69" x2="1169.88" y2="2942.63"/>
<line x1="1169.88" y1="2942.63" x2="1186.94" y2="2944.16"/>
<line x1="1186.94" y1="2944.16" x2="1204" y2="2942.94"/>
<line x1="1204" y1="2942.94" x2="1221.06" y2="2951.8"/>
<line x1="1221.06" y1="2951.8" x2="1238.12" y2="2935.6"/>
<line x1="1238.12" y1="2935.6" x2="1255.18" y2="2937.43"/>
<line x1="1255.18" y1="2937.43" x2="1272.24" y2="2937.43"/>
<line x1="1272.24" y1="2937.43" x2="1289.3" y2="2934.07"/>
<line x1="1289.3" y1="2934.07" x2="1306.36" y2="2928.57"/>
<line x1="1306.36" y1="2928.57" x2="1323.42" y2="2928.57"/>
<line x1="1323.42" y1="2928.57" x2="1340.48" y2="2935.6"/>
<line x1="1340.48" y1="2935.6" x2="1357.54" y2="2921.23"/>
<line x1="1357.54" y1="2921.23" x2="1374.6" y2="2921.23"/>
<line x1="1374.6" y1="2921.23" x2="1391.66" y2="2912.06"/>
<line x1="1391.66" y1="2912.06" x2="1408.72" y2="2923.07"/>
<line x1="1408.72" y1="2923.07" x2="1425.78" y2="2912.06"/>
<line x1="1425.78" y1="2912.06" x2="1442.84" y2="2901.37"/>
<line x1="1442.84" y1="2901.37" x2="1459.9" y2="2887"/>
<line x1="1459.9" y1="2887" x2="1476.96" y2="2874.16"/>
<line x1="1476.96" y1="2874.16" x2="1494.02" y2="2845.43"/>
<line x1="1494.02" y1="2845.43" x2="1511.08" y2="2790.1"/>
<line x1="1511.08" y1="2790.1" x2="1528.14" y2="2580.72"/>
<line x1="1528.14" y1="2580.72" x2="1545.2" y2="2673.34"/>
<line x1="1545.2" y1="2673.34" x2="1562.26" y2="2730.8"/>
<line x1="1562.26" y1="2730.8" x2="1579.32" y2="2439.81"/>
<line x1="1579.32" y1="2439.81" x2="1596.38" y2="2547.1"/>
<line x1="1596.38" y1="2547.1" x2="1613.44" y2="2802.94"/>
<line x1="1613.44" y1="2802.94" x2="1766.98" y2="2900.45"/>
</g>
<g fill="#0096f6">
<rect x="582.34" y="2932.07" width="15" height="15" rx="1.2"/>
<rect x="599.4" y="2939.72" width="15" height="15" rx="1.2"/>
<rect x="616.46" y="2938.19" width="15" height="15" rx="1.2"/>
<rect x="633.52" y="2941.24" width="15" height="15" rx="1.2"/>
<rect x="650.58" y="2936.66" width="15" height="15" rx="1.2"/>
<rect x="667.64" y="2941.24" width="15" height="15" rx="1.2"/>
<rect x="684.7" y="2939.72" width="15" height="15" rx="1.2"/>
<rect x="701.76" y="2936.66" width="15" height="15" rx="1.2"/>
<rect x="718.82" y="2941.24" width="15" height="15" rx="1.2"/>
<rect x="735.88" y="2928.41" width="15" height="15" rx="1.2"/>
<rect x="752.94" y="2938.19" width="15" height="15" rx="1.2"/>
<rect x="770" y="2939.72" width="15" height="15" rx="1.2"/>
<rect x="787.06" y="2941.24" width="15" height="15" rx="1.2"/>
<rect x="804.12" y="2938.19" width="15" height="15" rx="1.2"/>
<rect x="821.18" y="2939.72" width="15" height="15" rx="1.2"/>
<rect x="838.24" y="2936.66" width="15" height="15" rx="1.2"/>
<rect x="855.3" y="2938.19" width="15" height="15" rx="1.2"/>
<rect x="872.36" y="2935.13" width="15" height="15" rx="1.2"/>
<rect x="889.42" y="2939.72" width="15" height="15" rx="1.2"/>
<rect x="906.48" y="2936.66" width="15" height="15" rx="1.2"/>
<rect x="923.54" y="2938.19" width="15" height="15" rx="1.2"/>
<rect x="940.6" y="2939.72" width="15" height="15" rx="1.2"/>
<rect x="957.66" y="2941.24" width="15" height="15" rx="1.2"/>
<rect x="974.72" y="2939.72" width="15" height="15" rx="1.2"/>
<rect x="991.78" y="2938.19" width="15" height="15" rx="1.2"/>
<rect x="1008.84" y="2939.72" width="15" height="15" rx="1.2"/>
<rect x="1025.9" y="2936.66" width="15" height="15" rx="1.2"/>
<rect x="1042.96" y="2938.19" width="15" height="15" rx="1.2"/>
<rect x="1060.02" y="2935.13" width="15" height="15" rx="1.2"/>
<rect x="1077.08" y="2936.66" width="15" height="15" rx="1.2"/>
<rect x="1094.14" y="2938.19" width="15" height="15" rx="1.2"/>
<rect x="1111.2" y="2939.72" width="15" height="15" rx="1.2"/>
<rect x="1128.26" y="2936.66" width="15" height="15" rx="1.2"/>
<rect x="1145.32" y="2938.19" width="15" height="15" rx="1.2"/>
<rect x="1162.38" y="2935.13" width="15" height="15" rx="1.2"/>
<rect x="1179.44" y="2936.66" width="15" height="15" rx="1.2"/>
<rect x="1196.5" y="2935.44" width="15" height="15" rx="1.2"/>
<rect x="1213.56" y="2944.3" width="15" height="15" rx="1.2"/>
<rect x="1230.62" y="2928.1" width="15" height="15" rx="1.2"/>
<rect x="1247.68" y="2929.93" width="15" height="15" rx="1.2"/>
<rect x="1264.74" y="2929.93" width="15" height="15" rx="1.2"/>
<rect x="1281.8" y="2926.57" width="15" height="15" rx="1.2"/>
<rect x="1298.86" y="2921.07" width="15" height="15" rx="1.2"/>
<rect x="1315.92" y="2921.07" width="15" height="15" rx="1.2"/>
<rect x="1332.98" y="2928.1" width="15" height="15" rx="1.2"/>
<rect x="1350.04" y="2913.73" width="15" height="15" rx="1.2"/>
<rect x="1367.1" y="2913.73" width="15" height="15" rx="1.2"/>
<rect x="1384.16" y="2904.56" width="15" height="15" rx="1.2"/>
<rect x="1401.22" y="2915.57" width="15" height="15" rx="1.2"/>
<rect x="1418.28" y="2904.56" width="15" height="15" rx="1.2"/>
<rect x="1435.34" y="2893.87" width="15" height="15" rx="1.2"/>
<rect x="1452.4" y="2879.5" width="15" height="15" rx="1.2"/>
<rect x="1469.46" y="2866.66" width="15" height="15" rx="1.2"/>
<rect x="1486.52" y="2837.93" width="15" height="15" rx="1.2"/>
<rect x="1503.58" y="2782.6" width="15" height="15" rx="1.2"/>
<rect x="1520.64" y="2573.22" width="15" height="15" rx="1.2"/>
<rect x="1537.7" y="2665.84" width="15" height="15" rx="1.2"/>
<rect x="1554.76" y="2723.3" width="15" height="15" rx="1.2"/>
<rect x="1571.82" y="2432.31" width="15" height="15" rx="1.2"/>
<rect x="1588.88" y="2539.6" width="15" height="15" rx="1.2"/>
<rect x="1605.94" y="2795.44" width="15" height="15" rx="1.2"/>
<rect x="1759.48" y="2892.95" width="15" height="15" rx="1.2"/>
</g></g>
<g clip-path="url(#cb)">
<g stroke="#5861d9" stroke-opacity="0.45" stroke-width="4.4" stroke-linecap="round">
<line x1="346.39" y1="2947.22" x2="363.45" y2="2948.13"/>
<line x1="363.45" y1="2948.13" x2="380.51" y2="2949.35"/>
<line x1="380.51" y1="2949.35" x2="397.57" y2="2948.13"/>
<line x1="397.57" y1="2948.13" x2="414.63" y2="2937.74"/>
<line x1="414.63" y1="2937.74" x2="431.69" y2="2948.74"/>
<line x1="431.69" y1="2948.74" x2="448.75" y2="2947.52"/>
<line x1="448.75" y1="2947.52" x2="465.81" y2="2937.13"/>
<line x1="465.81" y1="2937.13" x2="482.87" y2="2936.52"/>
<line x1="482.87" y1="2936.52" x2="499.93" y2="2948.13"/>
<line x1="499.93" y1="2948.13" x2="516.99" y2="2937.13"/>
<line x1="516.99" y1="2937.13" x2="534.05" y2="2947.22"/>
<line x1="534.05" y1="2947.22" x2="551.11" y2="2948.74"/>
<line x1="551.11" y1="2948.74" x2="568.17" y2="2947.52"/>
<line x1="568.17" y1="2947.52" x2="585.23" y2="2946.3"/>
<line x1="585.23" y1="2946.3" x2="602.29" y2="2937.13"/>
<line x1="602.29" y1="2937.13" x2="619.35" y2="2947.22"/>
<line x1="619.35" y1="2947.22" x2="636.41" y2="2948.13"/>
<line x1="636.41" y1="2948.13" x2="653.47" y2="2945.69"/>
<line x1="653.47" y1="2945.69" x2="670.53" y2="2947.52"/>
<line x1="670.53" y1="2947.52" x2="687.59" y2="2948.13"/>
<line x1="687.59" y1="2948.13" x2="704.65" y2="2945.69"/>
<line x1="704.65" y1="2945.69" x2="721.71" y2="2947.22"/>
<line x1="721.71" y1="2947.22" x2="738.77" y2="2948.13"/>
<line x1="738.77" y1="2948.13" x2="755.83" y2="2945.69"/>
<line x1="755.83" y1="2945.69" x2="772.89" y2="2947.22"/>
<line x1="772.89" y1="2947.22" x2="789.95" y2="2944.16"/>
<line x1="789.95" y1="2944.16" x2="807.01" y2="2945.69"/>
<line x1="807.01" y1="2945.69" x2="824.07" y2="2942.63"/>
<line x1="824.07" y1="2942.63" x2="841.13" y2="2944.16"/>
<line x1="841.13" y1="2944.16" x2="858.19" y2="2941.1"/>
<line x1="858.19" y1="2941.1" x2="875.25" y2="2942.63"/>
<line x1="875.25" y1="2942.63" x2="892.31" y2="2943.24"/>
<line x1="892.31" y1="2943.24" x2="909.37" y2="2941.1"/>
<line x1="909.37" y1="2941.1" x2="926.43" y2="2942.02"/>
<line x1="926.43" y1="2942.02" x2="943.49" y2="2938.35"/>
<line x1="943.49" y1="2938.35" x2="960.55" y2="2937.43"/>
<line x1="960.55" y1="2937.43" x2="977.61" y2="2944.46"/>
<line x1="977.61" y1="2944.46" x2="994.67" y2="2944.46"/>
<line x1="994.67" y1="2944.46" x2="1011.73" y2="2937.43"/>
<line x1="1011.73" y1="2937.43" x2="1028.79" y2="2938.35"/>
<line x1="1028.79" y1="2938.35" x2="1045.85" y2="2928.26"/>
<line x1="1045.85" y1="2928.26" x2="1062.91" y2="2938.35"/>
<line x1="1062.91" y1="2938.35" x2="1079.97" y2="2938.35"/>
<line x1="1079.97" y1="2938.35" x2="1097.03" y2="2938.35"/>
<line x1="1097.03" y1="2938.35" x2="1114.09" y2="2938.35"/>
<line x1="1114.09" y1="2938.35" x2="1131.15" y2="2937.43"/>
<line x1="1131.15" y1="2937.43" x2="1148.21" y2="2928.26"/>
<line x1="1148.21" y1="2928.26" x2="1165.27" y2="2928.26"/>
<line x1="1165.27" y1="2928.26" x2="1182.33" y2="2928.26"/>
<line x1="1182.33" y1="2928.26" x2="1199.39" y2="2919.09"/>
<line x1="1199.39" y1="2919.09" x2="1216.45" y2="2928.57"/>
<line x1="1216.45" y1="2928.57" x2="1233.51" y2="2917.57"/>
<line x1="1233.51" y1="2917.57" x2="1250.57" y2="2917.57"/>
<line x1="1250.57" y1="2917.57" x2="1267.63" y2="2908.7"/>
<line x1="1267.63" y1="2908.7" x2="1284.69" y2="2908.7"/>
<line x1="1284.69" y1="2908.7" x2="1301.75" y2="2899.53"/>
<line x1="1301.75" y1="2899.53" x2="1318.81" y2="2890.67"/>
<line x1="1318.81" y1="2890.67" x2="1335.87" y2="2883.33"/>
<line x1="1335.87" y1="2883.33" x2="1352.93" y2="2883.33"/>
<line x1="1352.93" y1="2883.33" x2="1369.99" y2="2867.13"/>
<line x1="1369.99" y1="2867.13" x2="1387.05" y2="2821.89"/>
<line x1="1387.05" y1="2821.89" x2="1404.11" y2="2802.02"/>
<line x1="1404.11" y1="2802.02" x2="1421.17" y2="2637.27"/>
<line x1="1421.17" y1="2637.27" x2="1438.23" y2="2852.46"/>
<line x1="1438.23" y1="2852.46" x2="1455.29" y2="2870.49"/>
<line x1="1455.29" y1="2870.49" x2="1472.35" y2="2492.69"/>
<line x1="1472.35" y1="2492.69" x2="1489.41" y2="2317.24"/>
<line x1="1489.41" y1="2317.24" x2="1506.47" y2="2131.7"/>
<line x1="1506.47" y1="2131.7" x2="1523.53" y2="2326.1"/>
<line x1="1523.53" y1="2326.1" x2="1540.59" y2="2579.19"/>
</g>
<g fill="#5264fa">
<circle cx="346.39" cy="2947.22" r="8.2"/>
<circle cx="363.45" cy="2948.13" r="8.2"/>
<circle cx="380.51" cy="2949.35" r="8.2"/>
<circle cx="397.57" cy="2948.13" r="8.2"/>
<circle cx="414.63" cy="2937.74" r="8.2"/>
<circle cx="431.69" cy="2948.74" r="8.2"/>
<circle cx="448.75" cy="2947.52" r="8.2"/>
<circle cx="465.81" cy="2937.13" r="8.2"/>
<circle cx="482.87" cy="2936.52" r="8.2"/>
<circle cx="499.93" cy="2948.13" r="8.2"/>
<circle cx="516.99" cy="2937.13" r="8.2"/>
<circle cx="534.05" cy="2947.22" r="8.2"/>
<circle cx="551.11" cy="2948.74" r="8.2"/>
<circle cx="568.17" cy="2947.52" r="8.2"/>
<circle cx="585.23" cy="2946.3" r="8.2"/>
<circle cx="602.29" cy="2937.13" r="8.2"/>
<circle cx="619.35" cy="2947.22" r="8.2"/>
<circle cx="636.41" cy="2948.13" r="8.2"/>
<circle cx="653.47" cy="2945.69" r="8.2"/>
<circle cx="670.53" cy="2947.52" r="8.2"/>
<circle cx="687.59" cy="2948.13" r="8.2"/>
<circle cx="704.65" cy="2945.69" r="8.2"/>
<circle cx="721.71" cy="2947.22" r="8.2"/>
<circle cx="738.77" cy="2948.13" r="8.2"/>
<circle cx="755.83" cy="2945.69" r="8.2"/>
<circle cx="772.89" cy="2947.22" r="8.2"/>
<circle cx="789.95" cy="2944.16" r="8.2"/>
<circle cx="807.01" cy="2945.69" r="8.2"/>
<circle cx="824.07" cy="2942.63" r="8.2"/>
<circle cx="841.13" cy="2944.16" r="8.2"/>
<circle cx="858.19" cy="2941.1" r="8.2"/>
<circle cx="875.25" cy="2942.63" r="8.2"/>
<circle cx="892.31" cy="2943.24" r="8.2"/>
<circle cx="909.37" cy="2941.1" r="8.2"/>
<circle cx="926.43" cy="2942.02" r="8.2"/>
<circle cx="943.49" cy="2938.35" r="8.2"/>
<circle cx="960.55" cy="2937.43" r="8.2"/>
<circle cx="977.61" cy="2944.46" r="8.2"/>
<circle cx="994.67" cy="2944.46" r="8.2"/>
<circle cx="1011.73" cy="2937.43" r="8.2"/>
<circle cx="1028.79" cy="2938.35" r="8.2"/>
<circle cx="1045.85" cy="2928.26" r="8.2"/>
<circle cx="1062.91" cy="2938.35" r="8.2"/>
<circle cx="1079.97" cy="2938.35" r="8.2"/>
<circle cx="1097.03" cy="2938.35" r="8.2"/>
<circle cx="1114.09" cy="2938.35" r="8.2"/>
<circle cx="1131.15" cy="2937.43" r="8.2"/>
<circle cx="1148.21" cy="2928.26" r="8.2"/>
<circle cx="1165.27" cy="2928.26" r="8.2"/>
<circle cx="1182.33" cy="2928.26" r="8.2"/>
<circle cx="1199.39" cy="2919.09" r="8.2"/>
<circle cx="1216.45" cy="2928.57" r="8.2"/>
<circle cx="1233.51" cy="2917.57" r="8.2"/>
<circle cx="1250.57" cy="2917.57" r="8.2"/>
<circle cx="1267.63" cy="2908.7" r="8.2"/>
<circle cx="1284.69" cy="2908.7" r="8.2"/>
<circle cx="1301.75" cy="2899.53" r="8.2"/>
<circle cx="1318.81" cy="2890.67" r="8.2"/>
<circle cx="1335.87" cy="2883.33" r="8.2"/>
<circle cx="1352.93" cy="2883.33" r="8.2"/>
<circle cx="1369.99" cy="2867.13" r="8.2"/>
<circle cx="1387.05" cy="2821.89" r="8.2"/>
<circle cx="1404.11" cy="2802.02" r="8.2"/>
<circle cx="1421.17" cy="2637.27" r="8.2"/>
<circle cx="1438.23" cy="2852.46" r="8.2"/>
<circle cx="1455.29" cy="2870.49" r="8.2"/>
<circle cx="1472.35" cy="2492.69" r="8.2"/>
<circle cx="1489.41" cy="2317.24" r="8.2"/>
<circle cx="1506.47" cy="2131.7" r="8.2"/>
<circle cx="1523.53" cy="2326.1" r="8.2"/>
<circle cx="1540.59" cy="2579.19" r="8.2"/>
</g></g>
<g clip-path="url(#cb)">
<g stroke="#0000d3" stroke-opacity="0.45" stroke-width="4.4" stroke-linecap="round">
<line x1="351" y1="2913.29" x2="368.06" y2="2951.8"/>
<line x1="368.06" y1="2951.8" x2="385.12" y2="2941.71"/>
<line x1="385.12" y1="2941.71" x2="402.18" y2="2951.8"/>
<line x1="402.18" y1="2951.8" x2="419.24" y2="2951.8"/>
<line x1="419.24" y1="2951.8" x2="436.3" y2="2941.71"/>
<line x1="436.3" y1="2941.71" x2="453.36" y2="2951.8"/>
<line x1="453.36" y1="2951.8" x2="470.42" y2="2951.8"/>
<line x1="470.42" y1="2951.8" x2="487.48" y2="2951.8"/>
<line x1="487.48" y1="2951.8" x2="504.54" y2="2931.63"/>
<line x1="504.54" y1="2931.63" x2="521.6" y2="2951.8"/>
<line x1="521.6" y1="2951.8" x2="538.66" y2="2941.71"/>
<line x1="538.66" y1="2941.71" x2="555.72" y2="2951.8"/>
<line x1="555.72" y1="2951.8" x2="572.78" y2="2951.8"/>
<line x1="572.78" y1="2951.8" x2="589.84" y2="2951.8"/>
<line x1="589.84" y1="2951.8" x2="606.9" y2="2951.8"/>
<line x1="606.9" y1="2951.8" x2="623.96" y2="2941.71"/>
<line x1="623.96" y1="2941.71" x2="641.02" y2="2951.8"/>
<line x1="641.02" y1="2951.8" x2="658.08" y2="2932.54"/>
<line x1="658.08" y1="2932.54" x2="675.14" y2="2951.8"/>
<line x1="675.14" y1="2951.8" x2="692.2" y2="2932.54"/>
<line x1="692.2" y1="2932.54" x2="709.26" y2="2942.63"/>
<line x1="709.26" y1="2942.63" x2="726.32" y2="2951.8"/>
<line x1="726.32" y1="2951.8" x2="743.38" y2="2951.8"/>
<line x1="743.38" y1="2951.8" x2="760.44" y2="2942.63"/>
<line x1="760.44" y1="2942.63" x2="777.5" y2="2932.54"/>
<line x1="777.5" y1="2932.54" x2="794.56" y2="2951.8"/>
<line x1="794.56" y1="2951.8" x2="811.62" y2="2932.54"/>
<line x1="811.62" y1="2932.54" x2="828.68" y2="2942.63"/>
<line x1="828.68" y1="2942.63" x2="845.74" y2="2922.15"/>
<line x1="845.74" y1="2922.15" x2="862.8" y2="2932.54"/>
<line x1="862.8" y1="2932.54" x2="879.86" y2="2932.54"/>
<line x1="879.86" y1="2932.54" x2="896.92" y2="2932.54"/>
<line x1="896.92" y1="2932.54" x2="913.98" y2="2932.54"/>
<line x1="913.98" y1="2932.54" x2="931.04" y2="2922.15"/>
<line x1="931.04" y1="2922.15" x2="948.1" y2="2912.98"/>
<line x1="948.1" y1="2912.98" x2="965.16" y2="2901.98"/>
<line x1="965.16" y1="2901.98" x2="982.22" y2="2904.12"/>
<line x1="982.22" y1="2904.12" x2="999.28" y2="2863.46"/>
<line x1="999.28" y1="2863.46" x2="1016.34" y2="2854.29"/>
<line x1="1016.34" y1="2854.29" x2="1033.4" y2="2796.22"/>
<line x1="1033.4" y1="2796.22" x2="1050.46" y2="2737.83"/>
<line x1="1050.46" y1="2737.83" x2="1067.52" y2="2543.12"/>
<line x1="1067.52" y1="2543.12" x2="1084.58" y2="2707.57"/>
<line x1="1084.58" y1="2707.57" x2="1101.64" y2="2807.22"/>
<line x1="1101.64" y1="2807.22" x2="1118.7" y2="2320.9"/>
<line x1="1118.7" y1="2320.9" x2="1135.76" y2="1804.63"/>
<line x1="1135.76" y1="1804.63" x2="1152.82" y2="1891.44"/>
<line x1="1152.82" y1="1891.44" x2="1169.88" y2="2581.03"/>
<line x1="1169.88" y1="2581.03" x2="1306.36" y2="2885.78"/>
</g>
<g fill="#0000ff">
<path d="M351 2900.89L361.7 2919.49L340.3 2919.49Z"/>
<path d="M368.06 2939.4L378.76 2958L357.36 2958Z"/>
<path d="M385.12 2929.31L395.82 2947.91L374.42 2947.91Z"/>
<path d="M402.18 2939.4L412.88 2958L391.48 2958Z"/>
<path d="M419.24 2939.4L429.94 2958L408.54 2958Z"/>
<path d="M436.3 2929.31L447 2947.91L425.6 2947.91Z"/>
<path d="M453.36 2939.4L464.06 2958L442.66 2958Z"/>
<path d="M470.42 2939.4L481.12 2958L459.72 2958Z"/>
<path d="M487.48 2939.4L498.18 2958L476.78 2958Z"/>
<path d="M504.54 2919.23L515.24 2937.83L493.84 2937.83Z"/>
<path d="M521.6 2939.4L532.3 2958L510.9 2958Z"/>
<path d="M538.66 2929.31L549.36 2947.91L527.96 2947.91Z"/>
<path d="M555.72 2939.4L566.42 2958L545.02 2958Z"/>
<path d="M572.78 2939.4L583.48 2958L562.08 2958Z"/>
<path d="M589.84 2939.4L600.54 2958L579.14 2958Z"/>
<path d="M606.9 2939.4L617.6 2958L596.2 2958Z"/>
<path d="M623.96 2929.31L634.66 2947.91L613.26 2947.91Z"/>
<path d="M641.02 2939.4L651.72 2958L630.32 2958Z"/>
<path d="M658.08 2920.14L668.78 2938.74L647.38 2938.74Z"/>
<path d="M675.14 2939.4L685.84 2958L664.44 2958Z"/>
<path d="M692.2 2920.14L702.9 2938.74L681.5 2938.74Z"/>
<path d="M709.26 2930.23L719.96 2948.83L698.56 2948.83Z"/>
<path d="M726.32 2939.4L737.02 2958L715.62 2958Z"/>
<path d="M743.38 2939.4L754.08 2958L732.68 2958Z"/>
<path d="M760.44 2930.23L771.14 2948.83L749.74 2948.83Z"/>
<path d="M777.5 2920.14L788.2 2938.74L766.8 2938.74Z"/>
<path d="M794.56 2939.4L805.26 2958L783.86 2958Z"/>
<path d="M811.62 2920.14L822.32 2938.74L800.92 2938.74Z"/>
<path d="M828.68 2930.23L839.38 2948.83L817.98 2948.83Z"/>
<path d="M845.74 2909.75L856.44 2928.35L835.04 2928.35Z"/>
<path d="M862.8 2920.14L873.5 2938.74L852.1 2938.74Z"/>
<path d="M879.86 2920.14L890.56 2938.74L869.16 2938.74Z"/>
<path d="M896.92 2920.14L907.62 2938.74L886.22 2938.74Z"/>
<path d="M913.98 2920.14L924.68 2938.74L903.28 2938.74Z"/>
<path d="M931.04 2909.75L941.74 2928.35L920.34 2928.35Z"/>
<path d="M948.1 2900.58L958.8 2919.18L937.4 2919.18Z"/>
<path d="M965.16 2889.58L975.86 2908.18L954.46 2908.18Z"/>
<path d="M982.22 2891.72L992.92 2910.32L971.52 2910.32Z"/>
<path d="M999.28 2851.06L1009.98 2869.66L988.58 2869.66Z"/>
<path d="M1016.34 2841.89L1027.04 2860.49L1005.64 2860.49Z"/>
<path d="M1033.4 2783.82L1044.1 2802.42L1022.7 2802.42Z"/>
<path d="M1050.46 2725.43L1061.16 2744.03L1039.76 2744.03Z"/>
<path d="M1067.52 2530.72L1078.22 2549.32L1056.82 2549.32Z"/>
<path d="M1084.58 2695.17L1095.28 2713.77L1073.88 2713.77Z"/>
<path d="M1101.64 2794.82L1112.34 2813.42L1090.94 2813.42Z"/>
<path d="M1118.7 2308.5L1129.4 2327.1L1108 2327.1Z"/>
<path d="M1135.76 1792.23L1146.46 1810.83L1125.06 1810.83Z"/>
<path d="M1152.82 1879.04L1163.52 1897.64L1142.12 1897.64Z"/>
<path d="M1169.88 2568.63L1180.58 2587.23L1159.18 2587.23Z"/>
<path d="M1306.36 2873.38L1317.06 2891.98L1295.66 2891.98Z"/>
</g></g>
<path d="M1765.5 1665.5H1921.6" stroke="#8dcdee" stroke-width="4.4"/>
<g fill="#0096f6"><rect x="1835.97" y="1658.38" width="14.25" height="14.25" rx="1.2"/></g>
<path d="M1765.5 1752.9H1921.6" stroke="#b7baf0" stroke-width="4.4"/>
<g fill="#5264fa"><circle cx="1843.1" cy="1752.9" r="7.79"/></g>
<path d="M1765.5 1838.6H1921.6" stroke="#8c8ceb" stroke-width="4.4"/>
<g fill="#0000ff"><path d="M1843.1 1826.82L1853.26 1844.49L1832.93 1844.49Z"/></g>
<path d="M1125.5 1774H1269" stroke="#6a6af0" stroke-width="4"/>
<path d="M1493.2 2109.8H1637.3" stroke="#9ea4f2" stroke-width="4"/>
<path d="M1564.3 2421.7H1707.8" stroke="#8ccfef" stroke-width="4"/>
<g font-family='"Liberation Serif", "DejaVu Serif", serif'>
<text x="154.9" y="101.9" font-size="78.41" fill="#111111">1</text>
<text x="191.9" y="102.1" font-size="68.84" fill="#111111">×</text>
<text x="224" y="100.9" font-size="76.87" fill="#111111" textLength="74.01" lengthAdjust="spacing">10</text>
<text x="294.7" y="67.4" font-size="45.33" fill="#111111">4</text>
<text x="156.1" y="377.2" font-size="74.45" fill="#111111">8</text>
<text x="190.1" y="377.1" font-size="68.84" fill="#111111">×</text>
<text x="223" y="377.2" font-size="74.45" fill="#111111" textLength="72.89" lengthAdjust="spacing">10</text>
<text x="293.2" y="344.5" font-size="49.52" fill="#111111">3</text>
<text x="151.1" y="649.5" font-size="76.56" fill="#111111">6</text>
<text x="187.2" y="648.7" font-size="65.61" fill="#111111">×</text>
<text x="218.5" y="649.5" font-size="76.56" fill="#111111" textLength="74.42" lengthAdjust="spacing">10</text>
<text x="289.6" y="616.5" font-size="49.52" fill="#111111">3</text>
<text x="152.8" y="922.6" font-size="74.71" fill="#111111">4</text>
<text x="187.5" y="923.1" font-size="68.84" fill="#111111">×</text>
<text x="220" y="922.1" font-size="73.27" fill="#111111" textLength="74.13" lengthAdjust="spacing">10</text>
<text x="290.9" y="889.5" font-size="48.02" fill="#111111">3</text>
<text x="154.9" y="1198.1" font-size="74.71" fill="#111111">2</text>
<text x="189.7" y="1197.5" font-size="66.72" fill="#111111">×</text>
<text x="221.5" y="1197.6" font-size="73.27" fill="#111111" textLength="73.18" lengthAdjust="spacing">10</text>
<text x="292.2" y="1164.1" font-size="47.71" fill="#111111">3</text>
<text x="25" y="129.9" font-size="76.43" fill="#111111" textLength="83.4" lengthAdjust="spacing">(a)</text>
<text x="313.5" y="1524.4" font-size="67.5" fill="#111111">10</text>
<text x="656.85" y="1524.4" font-size="67.5" fill="#111111">20</text>
<text x="997.75" y="1524.4" font-size="67.5" fill="#111111">30</text>
<text x="1339.65" y="1524.4" font-size="67.5" fill="#111111">40</text>
<text x="1679.55" y="1524.4" font-size="67.5" fill="#111111">50</text>
<text x="2021.45" y="1524.4" font-size="67.5" fill="#111111">60</text>
<text x="107.3" y="993" font-size="75.5" fill="#111111" textLength="300.3" lengthAdjust="spacing" transform="rotate(-90 107.3 993)">Viscosity</text>
<text x="106.6" y="672" font-size="75.5" fill="#111111" textLength="117.6" lengthAdjust="spacing" transform="rotate(-90 106.6 672)">(cP)</text>
<text x="1907" y="182.1" font-size="67.5" fill="#111111" textLength="73.9" lengthAdjust="spacing">P9</text>
<text x="1908" y="278.5" font-size="67.5" fill="#111111" textLength="105.45" lengthAdjust="spacing">P12</text>
<text x="1908" y="372.2" font-size="67.5" fill="#111111" textLength="104.45" lengthAdjust="spacing">P15</text>
<text x="62" y="1660.4" font-size="77.47" fill="#111111" textLength="89.27" lengthAdjust="spacing">(b)</text>
<text x="173.5" y="1749.7" font-size="77.46" fill="#111111">4</text>
<text x="210.1" y="1751.5" font-size="66.77" fill="#111111">×</text>
<text x="242.5" y="1748.7" font-size="74.45" fill="#111111" textLength="73.7" lengthAdjust="spacing">10</text>
<text x="312.6" y="1716.6" font-size="50.71" fill="#111111">3</text>
<text x="171.2" y="2053.4" font-size="73.87" fill="#111111">3</text>
<text x="206.1" y="2051.9" font-size="64.56" fill="#111111">×</text>
<text x="237.5" y="2053.4" font-size="73.87" fill="#111111" textLength="74.61" lengthAdjust="spacing">10</text>
<text x="309.6" y="2019.6" font-size="47.71" fill="#111111">3</text>
<text x="162.6" y="2359.7" font-size="75.97" fill="#111111">2</text>
<text x="196.6" y="2359" font-size="69.5" fill="#111111">×</text>
<text x="230" y="2358.7" font-size="74.45" fill="#111111" textLength="74.13" lengthAdjust="spacing">10</text>
<text x="300.8" y="2325.4" font-size="46.82" fill="#111111">3</text>
<text x="164.7" y="2663" font-size="76.53" fill="#111111">1</text>
<text x="200.6" y="2663.4" font-size="69.99" fill="#111111">×</text>
<text x="234" y="2663" font-size="75.06" fill="#111111" textLength="72.97" lengthAdjust="spacing">10</text>
<text x="304.5" y="2629.6" font-size="49.21" fill="#111111">3</text>
<text x="288.8" y="2967.2" font-size="68.98" fill="#111111">0</text>
<text x="315" y="3024" font-size="67.5" fill="#111111">10</text>
<text x="657.95" y="3024" font-size="67.5" fill="#111111">20</text>
<text x="999.45" y="3024" font-size="67.5" fill="#111111">30</text>
<text x="1341.45" y="3024" font-size="67.5" fill="#111111">40</text>
<text x="1680.95" y="3024" font-size="67.5" fill="#111111">50</text>
<text x="2022.95" y="3024" font-size="67.5" fill="#111111">60</text>
<text x="149.9" y="2733.5" font-size="75.5" fill="#111111" textLength="340.04" lengthAdjust="spacing" transform="rotate(-90 149.9 2733.5)">Derivative</text>
<text x="153.3" y="2376" font-size="75.5" fill="#111111" textLength="273.45" lengthAdjust="spacing" transform="rotate(-90 153.3 2376)">viscosity</text>
<text x="150.8" y="2065" font-size="75.5" fill="#111111" textLength="271.42" lengthAdjust="spacing" transform="rotate(-90 150.8 2065)">(cP/min)</text>
<text x="889" y="3162.5" font-size="76" fill="#111111" textLength="277.12" lengthAdjust="spacing">Reaction</text>
<text x="1185.5" y="3162.5" font-size="76" fill="#111111" textLength="140.88" lengthAdjust="spacing">time</text>
<text x="1342.5" y="3163.5" font-size="76" fill="#111111" textLength="175.66" lengthAdjust="spacing">(min)</text>
<text x="1934" y="1688.5" font-size="62" fill="#111111" textLength="85.74" lengthAdjust="spacing">M1</text>
<text x="1934" y="1773.9" font-size="62" fill="#111111" textLength="87.74" lengthAdjust="spacing">M2</text>
<text x="1934" y="1860.4" font-size="62" fill="#111111" textLength="86.74" lengthAdjust="spacing">M3</text>
<text x="1123.5" y="1766.7" font-size="50" fill="#3434f0" textLength="146.1" lengthAdjust="spacing">33 min</text>
<text x="1493.5" y="2103.3" font-size="50" fill="#7b80f0" textLength="144.5" lengthAdjust="spacing">43 min</text>
<text x="1563.5" y="2415.5" font-size="50" fill="#2ea6ee" textLength="145.5" lengthAdjust="spacing">47 min</text>
</g>
</svg>
</body></html>
